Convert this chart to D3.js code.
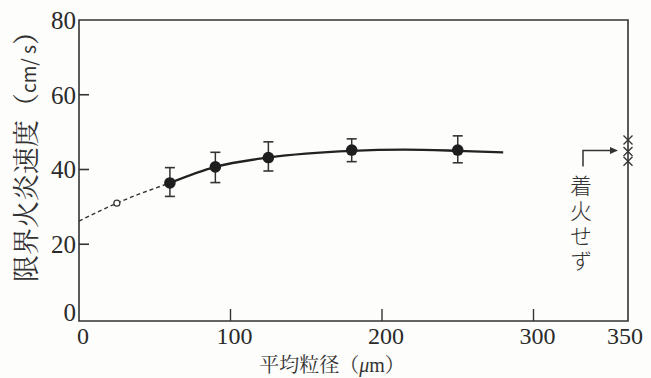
<!DOCTYPE html>
<html>
<head>
<meta charset="utf-8">
<script src="https://cdn.jsdelivr.net/npm/d3@7"></script>
<style>
  body { margin: 0; background: #fdfdfc; }
  svg { display: block; }
</style>
</head>
<body>
<svg width="651" height="378"></svg>
<script>
const width = 651
const height = 378

// measured points (mean and error range)
const pointX = [60, 90, 125, 180, 250]
const pointY = [36.4, 40.7, 43.2, 45.2, 45.2]
const errLow = [32.8, 36.5, 39.6, 42.1, 41.8]
const errHigh = [40.5, 44.6, 47.4, 48.2, 49.0]

// open circle (extrapolated point)
const openX = [25]
const openY = [31]

// fitted curve: dashed part then solid part
const dashX = [0, 25, 60]
const dashY = [26.2, 31, 36.4]
const curveX = [60, 90, 125, 180, 215, 250, 280]
const curveY = [36.4, 40.7, 43.2, 45.0, 45.3, 45.0, 44.6]

// no ignition marks at the right edge
const noIgnX = [350, 350, 350]
const noIgnY = [47.9, 44.8, 42.2]

const xTicks = [0, 100, 200, 300, 350]
const yTicks = [0, 20, 40, 60, 80]

const serif = '"Liberation Serif", serif'
const mincho = '"Noto Serif CJK JP", serif'
const gothic = '"Noto Sans CJK JP", sans-serif'

let margin = {top: 20, left: 79, right: 23, bottom: 57}

const svg = d3.select("svg")

// x axis is drawn to scale up to 300, the last block up to 350 is squeezed in
const x = d3.scaleLinear()
    .domain([0, 300, 350])
    .range([margin.left, 533.5, width - margin.right])
const y = d3.scaleLinear()
    .domain([0, 80])
    .range([height - margin.bottom - 2, margin.top])

const g = svg.append("g")

// frame
const x0 = x(0), x1 = x(350), y0 = height - margin.bottom, y1 = y(80)
g.append("path")
    .attr("d", `M${x0},${y1}H${x1}V${y0}H${x0}Z`)
    .attr("fill", "none")
    .attr("stroke", "#333")
    .attr("stroke-width", 1.6)

// y ticks (inward)
g.selectAll(".ytick")
    .data(yTicks.filter(d => d > 0 && d < 80))
    .enter().append("line")
    .attr("x1", x0).attr("x2", x0 + 10)
    .attr("y1", d => y(d)).attr("y2", d => y(d))
    .attr("stroke", "#333").attr("stroke-width", 1.6)

g.selectAll(".ylab")
    .data(yTicks)
    .enter().append("text")
    .style("font-family", serif)
    .attr("fill", "#2a2a2a")
    .attr("x", x0 - 3)
    .attr("y", d => d === 0 ? y(d) - 7 : y(d))
    .attr("dy", "0.35em")
    .attr("text-anchor", "end")
    .attr("font-size", 25)
    .text(d => d)

// x ticks (inward)
g.selectAll(".xtick")
    .data(xTicks.filter(d => d > 0 && d < 350))
    .enter().append("line")
    .attr("x1", d => x(d)).attr("x2", d => x(d))
    .attr("y1", y0).attr("y2", y0 - 12)
    .attr("stroke", "#333").attr("stroke-width", 1.4)

g.selectAll(".xlab")
    .data(xTicks)
    .enter().append("text")
    .style("font-family", serif)
    .attr("fill", "#2a2a2a")
    .attr("x", d => x(d) + (d === 350 ? -3 : 4))
    .attr("y", y0 + 23)
    .attr("text-anchor", "middle")
    .attr("font-size", 24)
    .text(d => d)

// axis titles
const xt = svg.append("text")
    .style("font-family", mincho)
    .attr("fill", "#333")
    .attr("x", 332)
    .attr("y", 372)
    .attr("text-anchor", "middle")
    .attr("font-size", 20)
xt.append("tspan").text("平均粒径（")
xt.append("tspan").style("font-family", serif).attr("font-style", "italic").text("μ")
xt.append("tspan").style("font-family", serif).text("m")
xt.append("tspan").text("）")

const yt = svg.append("text")
    .style("font-family", mincho)
    .attr("fill", "#333")
    .attr("transform", "translate(36,150) rotate(-90)")
    .attr("text-anchor", "middle")
    .attr("font-size", 27)
yt.append("tspan").text("限界火炎速度（")
yt.append("tspan").style("font-family", gothic).attr("font-size", 19).text("cm/ s")
yt.append("tspan").text("）")

// fitted curve
const line = d3.line()
    .x(d => x(d[0]))
    .y(d => y(d[1]))
    .curve(d3.curveMonotoneX)

g.append("path")
    .datum(dashX.map((d, i) => [d, dashY[i]]))
    .attr("d", line)
    .attr("fill", "none")
    .attr("stroke", "#333")
    .attr("stroke-width", 1.4)
    .attr("stroke-dasharray", "4,3")

g.append("path")
    .datum(curveX.map((d, i) => [d, curveY[i]]))
    .attr("d", line)
    .attr("fill", "none")
    .attr("stroke", "#222")
    .attr("stroke-width", 2.3)

// error bars
const pts = pointX.map((d, i) => ({x: d, y: pointY[i], lo: errLow[i], hi: errHigh[i]}))
const eb = g.selectAll(".err").data(pts).enter().append("g")
eb.append("line")
    .attr("x1", d => x(d.x)).attr("x2", d => x(d.x))
    .attr("y1", d => y(d.lo)).attr("y2", d => y(d.hi))
    .attr("stroke", "#333").attr("stroke-width", 1.5)
eb.append("line")
    .attr("x1", d => x(d.x) - 5).attr("x2", d => x(d.x) + 5)
    .attr("y1", d => y(d.lo)).attr("y2", d => y(d.lo))
    .attr("stroke", "#333").attr("stroke-width", 1.6)
eb.append("line")
    .attr("x1", d => x(d.x) - 5).attr("x2", d => x(d.x) + 5)
    .attr("y1", d => y(d.hi)).attr("y2", d => y(d.hi))
    .attr("stroke", "#333").attr("stroke-width", 1.6)
eb.append("circle")
    .attr("cx", d => x(d.x)).attr("cy", d => y(d.y))
    .attr("r", 5.8)
    .attr("fill", "#1e1e1e")

g.selectAll(".open")
    .data(openX)
    .enter().append("circle")
    .attr("cx", d => x(d)).attr("cy", (d, i) => y(openY[i]))
    .attr("r", 3)
    .attr("fill", "#fdfdfc")
    .attr("stroke", "#333").attr("stroke-width", 1.2)

// x marks: no ignition
g.selectAll(".cross")
    .data(noIgnX.map((d, i) => [d, noIgnY[i]]))
    .enter().append("path")
    .attr("d", d => {
        const cx = x(d[0]), cy = y(d[1]), s = 4.5
        return `M${cx - s},${cy - s}L${cx + s},${cy + s}M${cx - s},${cy + s}L${cx + s},${cy - s}`
    })
    .attr("stroke", "#333").attr("stroke-width", 1.3)

// arrow and note
const ax = 583, ay = y(noIgnY[1]) - 1
g.append("path")
    .attr("d", `M${ax},${ay + 16}V${ay}H${x(350) - 16}`)
    .attr("fill", "none")
    .attr("stroke", "#333").attr("stroke-width", 1.5)
g.append("path")
    .attr("d", `M${x(350) - 10},${ay}l-8,-3.5v7z`)
    .attr("fill", "#333")

const note = ["着火せず"]
g.selectAll(".note")
    .data(note)
    .enter().append("text")
    .style("font-family", gothic)
    .attr("font-weight", 300)
    .attr("fill", "#333")
    .attr("x", 581)
    .attr("y", 175)
    .attr("font-size", 22)
    .style("writing-mode", "vertical-rl")
    .style("letter-spacing", "3px")
    .text(d => d)
</script>
</body>
</html>
